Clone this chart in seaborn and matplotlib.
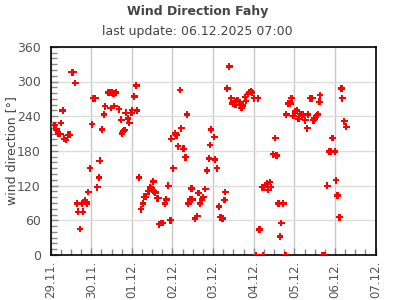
import matplotlib
matplotlib.use("Agg")
import matplotlib.pyplot as plt
import matplotlib.dates as mdates
import seaborn as sns
import pandas as pd

title = "Wind Direction Fahy"
subtitle = "last update: 06.12.2025 07:00"
y_label = "wind direction [°]"
start_date = "2025-11-29"
end_date = "2025-12-07"

# time offsets in days after 29.11.2025 00:00
day_offset = [
    0.015, 0.08, 0.11, 0.14, 0.18, 0.24, 0.26, 0.30, 0.34, 0.38, 0.43, 0.48, 0.52, 0.56,
    0.61, 0.66, 0.68, 0.73, 0.78, 0.80, 0.85, 0.88, 0.90, 0.93, 0.97, 1.02, 1.04, 1.10,
    1.15, 1.19, 1.21, 1.27, 1.32, 1.34, 1.41, 1.45, 1.48, 1.51, 1.55, 1.57, 1.61, 1.69,
    1.74, 1.76, 1.79, 1.82, 1.85, 1.90, 1.94, 1.99, 2.01, 2.06, 2.11, 2.13, 2.18, 2.23,
    2.28, 2.31, 2.35, 2.41, 2.45, 2.48, 2.51, 2.53, 2.55, 2.58, 2.62, 2.65, 2.67, 2.72,
    2.77, 2.82, 2.85, 2.90, 2.95, 2.97, 3.02, 3.07, 3.10, 3.14, 3.19, 3.22, 3.27, 3.32,
    3.36, 3.39, 3.44, 3.47, 3.49, 3.56, 3.61, 3.64, 3.68, 3.73, 3.76, 3.81, 3.85, 3.90,
    3.92, 3.95, 4.03, 4.05, 4.10, 4.15, 4.18, 4.23, 4.28, 4.30, 4.35, 4.40, 4.45, 4.48,
    4.50, 4.53, 4.55, 4.60, 4.65, 4.70, 4.72, 4.74, 4.79, 4.81, 4.86, 4.89, 4.93, 4.96,
    5.01, 5.06, 5.11, 5.14, 5.20, 5.23, 5.25, 5.30, 5.33, 5.36, 5.39, 5.43, 5.48, 5.53,
    5.56, 5.61, 5.65, 5.68, 5.73, 5.78, 5.80, 5.85, 5.90, 5.93, 5.98, 6.02, 6.07, 6.10,
    6.15, 6.18, 6.20, 6.22, 6.27, 6.32, 6.34, 6.39, 6.44, 6.47, 6.50, 6.53, 6.56, 6.58,
    6.62, 6.63, 6.69, 6.74, 6.81, 6.86, 6.89, 6.94, 6.99, 7.03, 7.06, 7.11, 7.16, 7.18,
    7.23, 7.28,
]
wind_dir = [
    225, 225, 225, 217, 209, 209, 228, 250, 201, 199, 208, 208, 316, 316,
    297, 89, 75, 45, 89, 75, 95, 92, 89, 109, 150, 226, 271, 271,
    117, 134, 163, 217, 243, 257, 281, 281, 254, 281, 279, 258, 281, 252,
    234, 210, 214, 216, 246, 236, 228, 246, 251, 274, 293, 250, 134, 79,
    89, 101, 101, 110, 117, 115, 113, 127, 110, 108, 98, 98, 53, 55,
    55, 89, 96, 120, 60, 201, 150, 210, 207, 188, 285, 219, 184, 169,
    243, 89, 96, 115, 96, 63, 67, 107, 89, 96, 100, 114, 146, 167,
    190, 217, 204, 165, 150, 84, 65, 63, 95, 109, 288, 326, 271, 262,
    263, 266, 259, 268, 264, 254, 257, 259, 273, 266, 278, 282, 283, 281,
    271, 0, 271, 44, 117, 0, 117, 121, 124, 112, 126, 117, 174, 202,
    172, 89, 32, 55, 89, 0, 243, 262, 262, 271, 240, 248, 250, 235,
    244, 240, 242, 244, 233, 219, 243, 271, 271, 233, 236, 240, 242, 243,
    265, 276, 0, 0, 120, 179, 179, 202, 179, 129, 103, 65, 288, 271,
    231, 222,
]
y_ticks = [0, 60, 120, 180, 240, 300, 360]

t0 = pd.Timestamp(start_date)
df = pd.DataFrame({
    "time": t0 + pd.to_timedelta(day_offset, unit="D"),
    "dir": wind_dir,
})

sns.set_theme(style="white")
plt.rcParams["font.family"] = ["DejaVu Sans"]

fig = plt.figure(figsize=(3.95, 3.0), dpi=100)
ax = fig.add_axes([0.128, 0.15, 0.823, 0.694])

sns.scatterplot(data=df, x="time", y="dir", ax=ax, marker="P", s=22,
                color="#ff0000", edgecolor="none", linewidth=0, zorder=3)

ax.set_xlim(t0, pd.Timestamp(end_date))
ax.set_ylim(0, 360)
ax.set_yticks(y_ticks)
ax.yaxis.set_minor_locator(matplotlib.ticker.MultipleLocator(10))
ax.xaxis.set_major_locator(mdates.DayLocator())
ax.xaxis.set_major_formatter(mdates.DateFormatter("%d.%m."))
ax.xaxis.set_minor_locator(mdates.HourLocator(byhour=[6, 12, 18]))

ax.grid(False)
ax.yaxis.grid(True, which="major", color="#dddddd", linewidth=1.0, zorder=0)
ax.xaxis.grid(True, which="major", color="#c8c8c8", linewidth=1.0, zorder=0)

for sp in ax.spines.values():
    sp.set_color("black")
    sp.set_linewidth(1.2)

ax.tick_params(axis="x", which="major", direction="in", length=5, width=1,
               color="#888888", labelsize=8.5, labelcolor="#555555",
               labelrotation=90, pad=4)
ax.tick_params(axis="x", which="minor", direction="in", length=4, width=1,
               color="#888888")
ax.tick_params(axis="y", which="major", direction="in", length=5, width=1,
               color="#888888", labelsize=9, labelcolor="#555555", pad=7)
ax.tick_params(axis="y", which="minor", direction="in", length=4, width=1,
               color="#888888")
ax.tick_params(bottom=True, left=True, which="both")

ax.set_xlabel("")
ax.set_ylabel(y_label, fontsize=9, color="#444444", labelpad=-1)

fig.text(0.5, 0.96, title, ha="center", va="center", fontsize=9,
         fontweight="bold", color="#444444")
fig.text(0.5, 0.895, subtitle, ha="center", va="center", fontsize=9,
         color="#444444")

fig.savefig("out.png", dpi=100)
